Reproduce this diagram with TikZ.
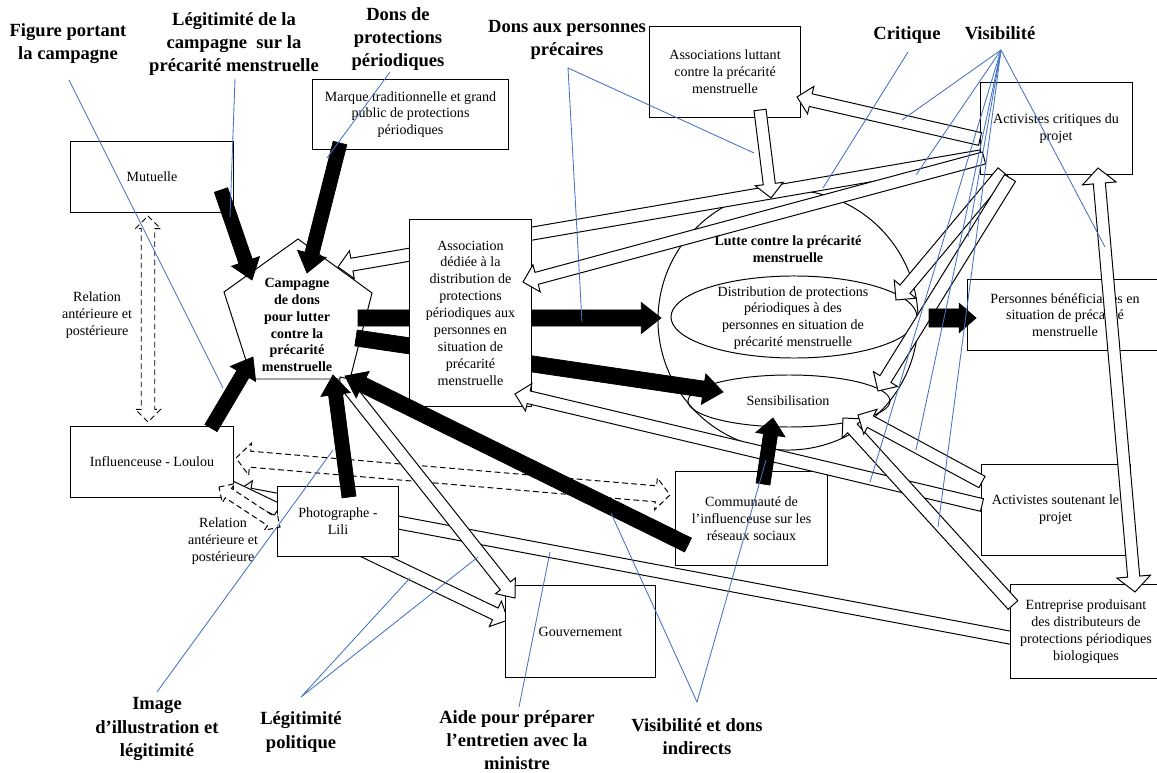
\documentclass[tikz,border=0pt]{standalone}
\usepackage{fontspec}
\setmainfont{Liberation Serif}
\usetikzlibrary{calc,shapes.geometric}
\definecolor{linkblue}{RGB}{68,114,196}
\newcommand\blockarr[6]{%
  \coordinate (tmpb) at ($(#3)!#6!(#2)$);
  \draw[#1] ($(#2)!#4!90:(#3)$) -- ($(tmpb)!#4!90:(#3)$) -- ($(tmpb)!#5!90:(#3)$) -- (#3)
    -- ($(tmpb)!#5!-90:(#3)$) -- ($(tmpb)!#4!-90:(#3)$) -- ($(#2)!#4!-90:(#3)$) -- cycle;}
\newcommand\dblockarr[6]{%
  \coordinate (tmpa) at ($(#2)!#6!(#3)$);
  \coordinate (tmpb) at ($(#3)!#6!(#2)$);
  \draw[#1] (#2) -- ($(tmpa)!#5!90:(#3)$) -- ($(tmpa)!#4!90:(#3)$) -- ($(tmpb)!#4!90:(#3)$)
    -- ($(tmpb)!#5!90:(#3)$) -- (#3) -- ($(tmpb)!#5!-90:(#3)$) -- ($(tmpb)!#4!-90:(#3)$)
    -- ($(tmpa)!#4!-90:(#3)$) -- ($(tmpa)!#5!-90:(#3)$) -- cycle;}
\begin{document}
\begin{tikzpicture}[x=0.025cm,y=-0.025cm,
  box/.style={draw,fill=white,line width=0.7pt,inner sep=0pt,align=center,font=\fontsize{10}{12}\selectfont},
  txt/.style={font=\fontsize{10}{12}\selectfont,align=center,inner sep=0pt},
  btxt/.style={font=\fontsize{10}{12}\selectfont\bfseries,align=center,inner sep=0pt},
  lbl/.style={font=\fontsize{13.2}{16.5}\selectfont\bfseries,align=center,inner sep=0pt},
  blk/.style={draw=black,fill=black,line width=0.5pt},
  hol/.style={draw=black,fill=white,line width=0.7pt},
  dsh/.style={draw=black,fill=white,line width=0.7pt,dash pattern=on 4pt off 2.5pt},
  blu/.style={draw=linkblue,line width=0.6pt}]
\useasboundingbox (0,0) rectangle (1157,773);
\fill[white] (0,0) rectangle (1157,773);

% ---------- coordinates ----------
\coordinate (b1s) at (221,190);  \coordinate (b1e) at (252,280);
\coordinate (b2s) at (340,143);  \coordinate (b2e) at (307,273);
\coordinate (b3s) at (211,428);  \coordinate (b3e) at (253,357);
\coordinate (b4s) at (349,497);  \coordinate (b4e) at (333,375);
\coordinate (b5s) at (688,545);  \coordinate (b5e) at (345,376);
\coordinate (b6s) at (358,318);  \coordinate (b6e) at (661,318);
\coordinate (b7s) at (356,338);  \coordinate (b7e) at (723,392);
\coordinate (b8s) at (929,318);  \coordinate (b8e) at (976,318);
\coordinate (b9s) at (763,484);  \coordinate (b9e) at (773,418);
\coordinate (h1s) at (760,110);  \coordinate (h1e) at (771,198);
\coordinate (h2s) at (980,139);  \coordinate (h2e) at (797,97);
\coordinate (hps) at (983,156);  \coordinate (hpe) at (338,267);
\coordinate (hqs) at (984,158);  \coordinate (hqe) at (523,282);
\coordinate (h5s) at (1003,172); \coordinate (h5e) at (896,300);
\coordinate (h6s) at (1010,178); \coordinate (h6e) at (878,391);
\coordinate (h7s) at (982,482);  \coordinate (h7e) at (858,415);
\coordinate (h8s) at (982,505);  \coordinate (h8e) at (515,394);
\coordinate (h9s) at (1013,605); \coordinate (h9e) at (843,418);
\coordinate (h10s) at (1012,638); \coordinate (h10e) at (236,492);
\coordinate (h12s) at (340,377); \coordinate (h12e) at (515,598);
\coordinate (h13s) at (220,482); \coordinate (h13e) at (508,620);
\coordinate (h14s) at (1098,168); \coordinate (h14e) at (1135,592);
\coordinate (d1s) at (148,216);  \coordinate (d1e) at (148,422);
\coordinate (d2s) at (236,458);  \coordinate (d2e) at (670,495);
\coordinate (d3s) at (219,487);  \coordinate (d3e) at (280,527);

% ---------- circle, ellipses, pentagon ----------
\node[draw,circle,line width=0.7pt,minimum size=6.5cm,inner sep=0pt] (lutte) at (788,320) {};
\node[draw,ellipse,line width=0.7pt,minimum width=6.15cm,minimum height=2.05cm,inner sep=0pt] (distE) at (794,317) {};
\node[draw,ellipse,line width=0.7pt,minimum width=5.05cm,minimum height=1.3cm,inner sep=0pt] (sensE) at (789,401) {};
\node[txt] (distT) at (793,318) {Distribution de protections\\périodiques à des\\personnes en situation de\\précarité menstruelle};
\node[txt] (sensT) at (788,401) {Sensibilisation};

\draw[fill=white,line width=0.7pt] (298,239) -- (372,293) -- (350,379) -- (252,379) -- (224,292) -- cycle;
\node[btxt] (camp) at (297,325) {Campagne\\de dons\\pour lutter\\contre la\\précarité\\menstruelle};

% ---------- arrows hidden behind boxes ----------
\blockarr{blk}{b6s}{b6e}{5.7pt}{11pt}{14pt}
\blockarr{blk}{b7s}{b7e}{5.7pt}{11pt}{14pt}
\blockarr{hol}{hps}{hpe}{4.6pt}{10pt}{10pt}
\blockarr{hol}{h10s}{h10e}{4.6pt}{10pt}{10pt}
\blockarr{hol}{h13s}{h13e}{4.6pt}{10pt}{10pt}

% ---------- boxes ----------
\node[box,minimum width=4.05cm,minimum height=1.75cm] (mut) at (152,177) {Mutuelle};
\node[box,minimum width=4.875cm,minimum height=1.725cm] (marque) at (410.5,114.5) {Marque traditionnelle et grand\\public de protections\\périodiques};
\node[box,minimum width=3.75cm,minimum height=2.25cm] (assoL) at (725,72) {Associations luttant\\contre la précarité\\menstruelle};
\node[box,minimum width=3.8cm,minimum height=2.275cm] (actC) at (1056,128.5) {Activistes critiques du\\projet};
\node[box,minimum width=3.025cm,minimum height=4.65cm] (assoD) at (470.5,313) {Association\\dédiée à la\\distribution de\\protections\\périodiques aux\\personnes en\\situation de\\précarité\\menstruelle};
\node[box,minimum width=4.85cm,minimum height=1.75cm] (pers) at (1065,315) {Personnes bénéficiaires en\\situation de précarité\\menstruelle};
\node[box,minimum width=4.05cm,minimum height=1.75cm] (infl) at (152,462) {Influenceuse - Loulou};
\node[box,minimum width=3cm,minimum height=1.725cm] (photo) at (338,521.5) {Photographe -\\Lili};
\node[box,minimum width=3.775cm,minimum height=2.325cm] (comm) at (751.5,518.5) {Communauté de\\l’influenceuse sur les\\réseaux sociaux};
\node[box,minimum width=3.725cm,minimum height=2.25cm] (actS) at (1055.5,510) {Activistes soutenant le\\projet};
\node[box,minimum width=3.725cm,minimum height=2.275cm] (gouv) at (580.5,631.5) {Gouvernement};
\node[box,minimum width=3.8cm,minimum height=2.325cm] (entr) at (1086,631.5) {Entreprise produisant\\des distributeurs de\\protections périodiques\\biologiques};

% ---------- dashed relations ----------
\dblockarr{dsh}{d2s}{d2e}{5.7pt}{11.4pt}{10pt}
\dblockarr{dsh}{d1s}{d1e}{4.8pt}{9pt}{9pt}
\dblockarr{dsh}{d3s}{d3e}{4pt}{8pt}{8pt}

% ---------- hollow arrows ----------
\dblockarr{hol}{h12s}{h12e}{4.6pt}{9pt}{11pt}
\blockarr{hol}{h2s}{h2e}{4.6pt}{10pt}{10pt}
\blockarr{hol}{h1s}{h1e}{4.3pt}{10pt}{10pt}
\blockarr{hol}{hqs}{hqe}{4.4pt}{10pt}{10pt}
\blockarr{hol}{h5s}{h5e}{4.6pt}{10pt}{10pt}
\blockarr{hol}{h6s}{h6e}{4.6pt}{10pt}{10pt}
\blockarr{hol}{h8s}{h8e}{4.6pt}{10pt}{10pt}
\blockarr{hol}{h9s}{h9e}{4.6pt}{10pt}{10pt}
\blockarr{hol}{h7s}{h7e}{4.6pt}{10pt}{10pt}

\node[btxt] (lutteT) at (788,249) {Lutte contre la précarité\\menstruelle};

% ---------- black arrows ----------
\blockarr{blk}{b1s}{b1e}{5pt}{10.5pt}{14pt}
\blockarr{blk}{b2s}{b2e}{5pt}{10.5pt}{14pt}
\blockarr{blk}{b3s}{b3e}{5pt}{10.5pt}{14pt}
\blockarr{blk}{b4s}{b4e}{5pt}{10.5pt}{14pt}
\blockarr{blk}{b5s}{b5e}{5.5pt}{10.5pt}{14pt}
\blockarr{blk}{b8s}{b8e}{6.5pt}{10.5pt}{12pt}
\blockarr{blk}{b9s}{b9e}{5pt}{10.5pt}{12pt}

% ---------- long double arrow on the right ----------
\dblockarr{hol}{h14s}{h14e}{4.3pt}{12pt}{11pt}

% ---------- labels ----------
\node[lbl] (figL) at (68,44) {Figure portant\\la campagne};
\node[lbl] (legL) at (234,44) {Légitimité de la\\campagne\ \ sur la\\précarité menstruelle};
\node[lbl] (donsL) at (398,39) {Dons de\\protections\\périodiques};
\node[lbl] (donsPL) at (567,40) {Dons aux personnes\\précaires};
\node[lbl] (critL) at (907,35) {Critique};
\node[lbl] (visL) at (1000,33) {Visibilité};
\node[lbl] (imgL) at (157,729) {Image\\d’illustration et\\légitimité};
\node[lbl] (polL) at (301,732) {Légitimité\\politique};
\node[lbl] (aideL) at (517,740) {Aide pour préparer\\l’entretien avec la\\ministre};
\node[lbl] (visDL) at (697,737) {Visibilité et dons\\indirects};
\node[txt] (rel1) at (97,315) {Relation\\antérieure et\\postérieure};
\node[txt] (rel2) at (223,541) {Relation\\antérieure et\\postérieure};

% ---------- blue annotation lines ----------
\coordinate (figA) at (69,80);   \coordinate (figB) at (223,388);
\coordinate (legA) at (235,79);  \coordinate (legB) at (230,217);
\coordinate (donA) at (390,72);  \coordinate (donB) at (327,158);
\coordinate (dpA) at (568,68);   \coordinate (dpB) at (754,153); \coordinate (dpC) at (582,322);
\coordinate (crA) at (908,52);   \coordinate (crB) at (823,188);
\coordinate (viA) at (1001,50);
\coordinate (vi1) at (902,120); \coordinate (vi2) at (916,175); \coordinate (vi3) at (1105,247);
\coordinate (vi4) at (968,237); \coordinate (vi5) at (870,482); \coordinate (vi6) at (916,450);
\coordinate (vi7) at (938,527);
\coordinate (imA) at (157,692);  \coordinate (imB) at (333,450);
\coordinate (poA) at (301,697);  \coordinate (poB) at (410,578); \coordinate (poC) at (478,557);
\coordinate (aiA) at (519,707);  \coordinate (aiB) at (550,552);
\coordinate (vdA) at (697,702);  \coordinate (vdB) at (611,513); \coordinate (vdC) at (766,460);
\draw[blu] (figA) -- (figB);
\draw[blu] (legA) -- (legB);
\draw[blu] (donA) -- (donB);
\draw[blu] (dpB) -- (dpA) -- (dpC);
\draw[blu] (crA) -- (crB);
\foreach \v in {vi1,vi2,vi3,vi4,vi5,vi6,vi7} \draw[blu] (viA) -- (\v);
\draw[blu] (imA) -- (imB);
\draw[blu] (poB) -- (poA) -- (poC);
\draw[blu] (aiA) -- (aiB);
\draw[blu] (vdB) -- (vdA) -- (vdC);
\end{tikzpicture}
\end{document}
